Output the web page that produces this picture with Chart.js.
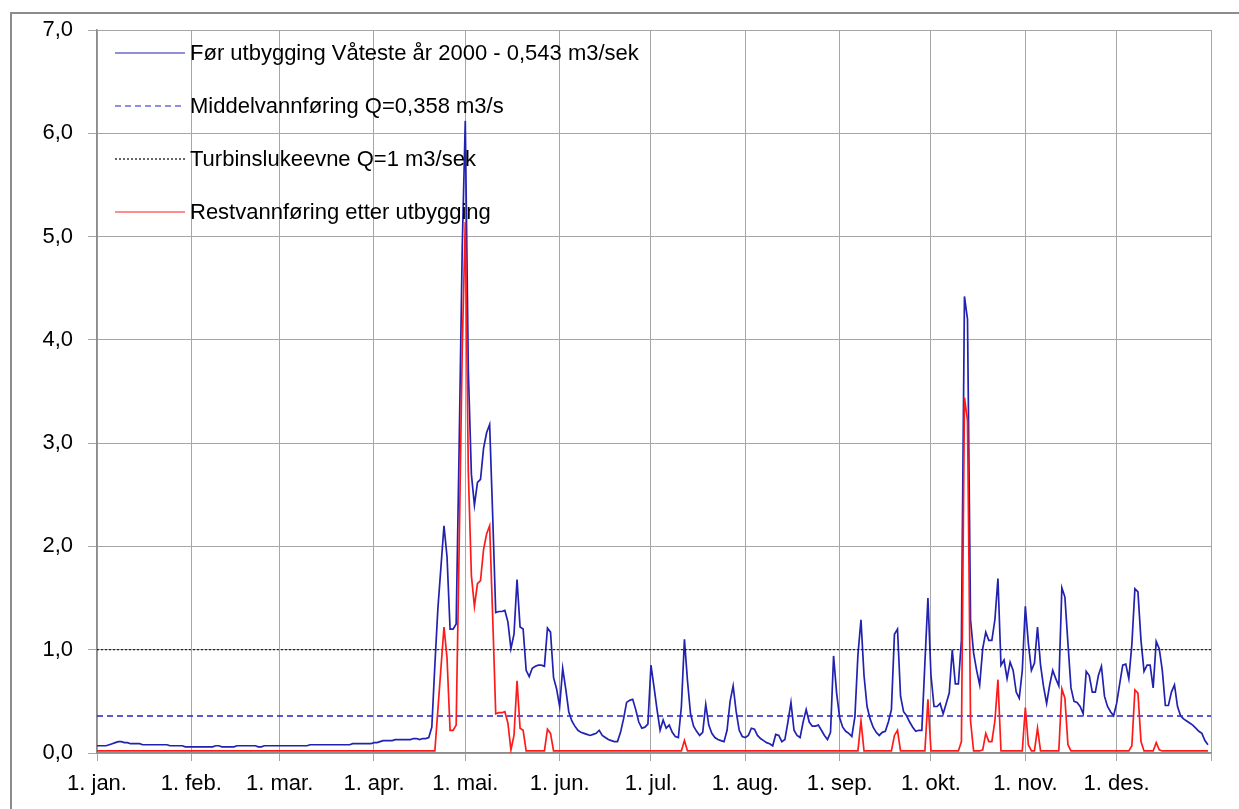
<!DOCTYPE html>
<html lang="no">
<head>
<meta charset="UTF-8">
<title>Vannføring Våteste år 2000</title>
<script src="https://cdn.jsdelivr.net/npm/chart.js@4.4.1/dist/chart.umd.min.js"></script>
<style>
    html, body {
        margin: 0;
        padding: 0;
        background: #fff;
        overflow: hidden;
    }
    .frame {
        position: absolute;
        left: 10px;
        top: 12px;
        width: 1240px;
        height: 810px;
        border: 2px solid #8c8c8c;
    }
    .wrap {
        position: absolute;
        left: 0;
        top: 0;
        width: 1239px;
        height: 809px;
    }
</style>
</head>
<body>
<div class="frame"></div>
<div class="wrap"><canvas id="flowChart"></canvas></div>

<script>
// daily flow (m3/s) before development, year 2000 (leap year), one array per month
const qJan = [0.07, 0.07, 0.07, 0.07, 0.08, 0.09, 0.10, 0.11, 0.11, 0.10,
              0.10, 0.09, 0.09, 0.09, 0.09, 0.08, 0.08, 0.08, 0.08, 0.08,
              0.08, 0.08, 0.08, 0.08, 0.07, 0.07, 0.07, 0.07, 0.07, 0.06,
              0.06];
const qFeb = [0.06, 0.06, 0.06, 0.06, 0.06, 0.06, 0.06, 0.06, 0.07, 0.07,
              0.06, 0.06, 0.06, 0.06, 0.06, 0.07, 0.07, 0.07, 0.07, 0.07,
              0.07, 0.07, 0.06, 0.06, 0.07, 0.07, 0.07, 0.07, 0.07];
const qMar = [0.07, 0.07, 0.07, 0.07, 0.07, 0.07, 0.07, 0.07, 0.07, 0.07,
              0.08, 0.08, 0.08, 0.08, 0.08, 0.08, 0.08, 0.08, 0.08, 0.08,
              0.08, 0.08, 0.08, 0.08, 0.09, 0.09, 0.09, 0.09, 0.09, 0.09,
              0.09];
const qApr = [0.10, 0.10, 0.11, 0.12, 0.12, 0.12, 0.12, 0.13, 0.13, 0.13,
              0.13, 0.13, 0.13, 0.14, 0.14, 0.13, 0.14, 0.14, 0.15, 0.25,
              0.85, 1.40, 1.80, 2.20, 1.90, 1.20, 1.20, 1.25, 3.00, 4.90];
const qMay = [6.12, 3.70, 2.70, 2.40, 2.62, 2.65, 2.95, 3.10, 3.18, 2.30,
              1.36, 1.37, 1.37, 1.38, 1.27, 1.01, 1.15, 1.68, 1.22, 1.20,
              0.80, 0.74, 0.82, 0.84, 0.85, 0.85, 0.84, 1.21, 1.17, 0.73,
              0.62];
const qJun = [0.45, 0.82, 0.62, 0.40, 0.31, 0.26, 0.22, 0.20, 0.19, 0.18,
              0.17, 0.18, 0.19, 0.22, 0.17, 0.15, 0.13, 0.12, 0.11, 0.11,
              0.20, 0.33, 0.49, 0.51, 0.52, 0.42, 0.30, 0.24, 0.25, 0.28];
const qJul = [0.85, 0.64, 0.42, 0.22, 0.32, 0.24, 0.27, 0.20, 0.16, 0.15,
              0.45, 1.10, 0.70, 0.38, 0.26, 0.21, 0.17, 0.20, 0.47, 0.27,
              0.19, 0.15, 0.13, 0.12, 0.11, 0.22, 0.50, 0.65, 0.40, 0.22,
              0.16];
const qAug = [0.15, 0.17, 0.24, 0.23, 0.17, 0.14, 0.12, 0.10, 0.09, 0.07,
              0.18, 0.17, 0.11, 0.13, 0.30, 0.49, 0.22, 0.17, 0.15, 0.30,
              0.42, 0.30, 0.26, 0.26, 0.27, 0.22, 0.17, 0.13, 0.20, 0.94,
              0.58];
const qSep = [0.34, 0.25, 0.21, 0.19, 0.16, 0.35, 0.95, 1.29, 0.75, 0.45,
              0.33, 0.25, 0.20, 0.17, 0.20, 0.21, 0.30, 0.42, 1.15, 1.20,
              0.55, 0.40, 0.36, 0.30, 0.25, 0.21, 0.22, 0.22, 0.87, 1.50];
const qOct = [0.75, 0.45, 0.45, 0.48, 0.38, 0.48, 0.58, 1.00, 0.67, 0.67,
              1.09, 4.42, 4.20, 1.29, 0.97, 0.80, 0.66, 1.01, 1.17, 1.09,
              1.09, 1.29, 1.69, 0.85, 0.90, 0.72, 0.88, 0.80, 0.59, 0.53,
              0.80];
const qNov = [1.42, 1.06, 0.80, 0.87, 1.22, 0.85, 0.64, 0.48, 0.66, 0.80,
              0.72, 0.65, 1.60, 1.51, 1.06, 0.63, 0.50, 0.49, 0.45, 0.38,
              0.79, 0.75, 0.59, 0.59, 0.75, 0.84, 0.55, 0.45, 0.40, 0.36];
const qDec = [0.48, 0.67, 0.85, 0.86, 0.72, 1.05, 1.59, 1.56, 1.09, 0.79,
              0.85, 0.85, 0.63, 1.08, 1.01, 0.80, 0.46, 0.46, 0.59, 0.66,
              0.45, 0.36, 0.33, 0.31, 0.29, 0.27, 0.24, 0.21, 0.19, 0.12,
              0.08];

// residual flow after development (m3/s)
const rJan = [0.02, 0.02, 0.02, 0.02, 0.02, 0.02, 0.02, 0.02, 0.02, 0.02,
              0.02, 0.02, 0.02, 0.02, 0.02, 0.02, 0.02, 0.02, 0.02, 0.02,
              0.02, 0.02, 0.02, 0.02, 0.02, 0.02, 0.02, 0.02, 0.02, 0.02,
              0.02];
const rFeb = [0.02, 0.02, 0.02, 0.02, 0.02, 0.02, 0.02, 0.02, 0.02, 0.02,
              0.02, 0.02, 0.02, 0.02, 0.02, 0.02, 0.02, 0.02, 0.02, 0.02,
              0.02, 0.02, 0.02, 0.02, 0.02, 0.02, 0.02, 0.02, 0.02];
const rMar = [0.02, 0.02, 0.02, 0.02, 0.02, 0.02, 0.02, 0.02, 0.02, 0.02,
              0.02, 0.02, 0.02, 0.02, 0.02, 0.02, 0.02, 0.02, 0.02, 0.02,
              0.02, 0.02, 0.02, 0.02, 0.02, 0.02, 0.02, 0.02, 0.02, 0.02,
              0.02];
const rApr = [0.02, 0.02, 0.02, 0.02, 0.02, 0.02, 0.02, 0.02, 0.02, 0.02,
              0.02, 0.02, 0.02, 0.02, 0.02, 0.02, 0.02, 0.02, 0.02, 0.02,
              0.02, 0.42, 0.82, 1.22, 0.92, 0.22, 0.22, 0.27, 2.02, 3.92];
const rMay = [5.14, 2.72, 1.72, 1.42, 1.64, 1.67, 1.97, 2.12, 2.20, 1.32,
              0.38, 0.39, 0.39, 0.40, 0.29, 0.03, 0.17, 0.70, 0.24, 0.22,
              0.02, 0.02, 0.02, 0.02, 0.02, 0.02, 0.02, 0.23, 0.19, 0.02,
              0.02];
const rJun = [0.02, 0.02, 0.02, 0.02, 0.02, 0.02, 0.02, 0.02, 0.02, 0.02,
              0.02, 0.02, 0.02, 0.02, 0.02, 0.02, 0.02, 0.02, 0.02, 0.02,
              0.02, 0.02, 0.02, 0.02, 0.02, 0.02, 0.02, 0.02, 0.02, 0.02];
const rJul = [0.02, 0.02, 0.02, 0.02, 0.02, 0.02, 0.02, 0.02, 0.02, 0.02,
              0.02, 0.12, 0.02, 0.02, 0.02, 0.02, 0.02, 0.02, 0.02, 0.02,
              0.02, 0.02, 0.02, 0.02, 0.02, 0.02, 0.02, 0.02, 0.02, 0.02,
              0.02];
const rAug = [0.02, 0.02, 0.02, 0.02, 0.02, 0.02, 0.02, 0.02, 0.02, 0.02,
              0.02, 0.02, 0.02, 0.02, 0.02, 0.02, 0.02, 0.02, 0.02, 0.02,
              0.02, 0.02, 0.02, 0.02, 0.02, 0.02, 0.02, 0.02, 0.02, 0.02,
              0.02];
const rSep = [0.02, 0.02, 0.02, 0.02, 0.02, 0.02, 0.02, 0.31, 0.02, 0.02,
              0.02, 0.02, 0.02, 0.02, 0.02, 0.02, 0.02, 0.02, 0.17, 0.22,
              0.02, 0.02, 0.02, 0.02, 0.02, 0.02, 0.02, 0.02, 0.02, 0.52];
const rOct = [0.02, 0.02, 0.02, 0.02, 0.02, 0.02, 0.02, 0.02, 0.02, 0.02,
              0.11, 3.44, 3.22, 0.31, 0.02, 0.02, 0.02, 0.03, 0.19, 0.11,
              0.11, 0.31, 0.71, 0.02, 0.02, 0.02, 0.02, 0.02, 0.02, 0.02,
              0.02];
const rNov = [0.44, 0.08, 0.02, 0.02, 0.24, 0.02, 0.02, 0.02, 0.02, 0.02,
              0.02, 0.02, 0.62, 0.53, 0.08, 0.02, 0.02, 0.02, 0.02, 0.02,
              0.02, 0.02, 0.02, 0.02, 0.02, 0.02, 0.02, 0.02, 0.02, 0.02];
const rDec = [0.02, 0.02, 0.02, 0.02, 0.02, 0.07, 0.61, 0.58, 0.11, 0.02,
              0.02, 0.02, 0.02, 0.10, 0.03, 0.02, 0.02, 0.02, 0.02, 0.02,
              0.02, 0.02, 0.02, 0.02, 0.02, 0.02, 0.02, 0.02, 0.02, 0.02,
              0.02];

const meanFlow = 0.358;
const turbineCapacity = 1;

// x axis: day of year where each month starts, and its label
const monthStarts = [0, 31, 60, 91, 121, 152, 182, 213, 244, 274, 305, 335, 366];
const monthLabels = ['1. jan.', '1. feb.', '1. mar.', '1. apr.', '1. mai.', '1. jun.',
                     '1. jul.', '1. aug.', '1. sep.', '1. okt.', '1. nov.', '1. des.', ''];
const yTicks = [0, 1, 2, 3, 4, 5, 6, 7];

const seriesLabels = [
    'Før utbygging Våteste år 2000 - 0,543 m3/sek',
    'Middelvannføring Q=0,358 m3/s',
    'Turbinslukeevne Q=1 m3/sek',
    'Restvannføring etter utbygging'
];

const flowBefore = [].concat(qJan, qFeb, qMar, qApr, qMay, qJun, qJul, qAug, qSep, qOct, qNov, qDec);
const flowAfter = [].concat(rJan, rFeb, rMar, rApr, rMay, rJun, rJul, rAug, rSep, rOct, rNov, rDec);
const lastDay = monthStarts[monthStarts.length - 1];

const FONT = '"Liberation Sans", Arial, sans-serif';

// legend drawn inside the plot, line sample + text, no box
const lineLegend = {
    id: 'lineLegend',
    afterDraw(chart) {
        const ctx = chart.ctx;
        const area = chart.chartArea;
        ctx.save();
        ctx.font = '22px ' + FONT;
        ctx.textBaseline = 'middle';
        chart.data.datasets.forEach(function(ds, i) {
            const y = area.top + 23 + i * 53;
            const x0 = area.left + 18;
            ctx.strokeStyle = ds.borderColor;
            ctx.lineWidth = 1.2;
            ctx.setLineDash(ds.borderDash || []);
            ctx.beginPath();
            ctx.moveTo(x0, y);
            ctx.lineTo(x0 + 70, y);
            ctx.stroke();
            ctx.setLineDash([]);
            ctx.fillStyle = '#000';
            ctx.fillText(ds.label, x0 + 75, y + 1);
        });
        ctx.restore();
    }
};

const ctx = document.getElementById('flowChart').getContext('2d');
new Chart(ctx, {
    type: 'line',
    data: {
        datasets: [{
            label: seriesLabels[0],
            data: flowBefore.map((v, i) => ({ x: i, y: v })),
            borderColor: '#2222b0',
            borderWidth: 1.7,
            order: 3
        }, {
            label: seriesLabels[1],
            data: [{ x: 0, y: meanFlow }, { x: lastDay, y: meanFlow }],
            borderColor: '#2323c8',
            borderWidth: 1.3,
            borderDash: [6, 4],
            order: 2
        }, {
            label: seriesLabels[2],
            data: [{ x: 0, y: turbineCapacity }, { x: lastDay, y: turbineCapacity }],
            borderColor: '#000000',
            borderWidth: 1,
            borderDash: [2, 2],
            order: 1
        }, {
            label: seriesLabels[3],
            data: flowAfter.map((v, i) => ({ x: i, y: v })),
            borderColor: '#ff1a1a',
            borderWidth: 1.7,
            order: 0
        }]
    },
    options: {
        responsive: true,
        maintainAspectRatio: false,
        animation: false,
        events: [],
        layout: { padding: { left: 0, top: 30, right: 28, bottom: 0 } },
        elements: {
            point: { radius: 0 },
            line: { tension: 0, fill: false }
        },
        plugins: {
            legend: { display: false },
            tooltip: { enabled: false }
        },
        scales: {
            x: {
                type: 'linear',
                min: 0,
                max: lastDay,
                afterFit: s => { s.height = 56; },
                afterBuildTicks: s => { s.ticks = monthStarts.map(v => ({ value: v })); },
                grid: { color: '#a6a6a6', lineWidth: 1, tickLength: 8 },
                border: { color: '#8c8c8c', width: 1.5 },
                ticks: {
                    autoSkip: false,
                    maxRotation: 0,
                    padding: 10,
                    color: '#000',
                    font: { family: FONT, size: 22 },
                    callback: (v, i) => monthLabels[i]
                }
            },
            y: {
                min: 0,
                max: 7,
                afterFit: s => { s.width = 97; },
                afterBuildTicks: s => { s.ticks = yTicks.map(v => ({ value: v })); },
                grid: { color: '#a6a6a6', lineWidth: 1, tickLength: 9 },
                border: { color: '#8c8c8c', width: 1.5 },
                ticks: {
                    padding: 15,
                    color: '#000',
                    font: { family: FONT, size: 22 },
                    callback: v => v.toFixed(1).replace('.', ',')
                }
            }
        }
    },
    plugins: [lineLegend]
});
</script>
</body>
</html>
